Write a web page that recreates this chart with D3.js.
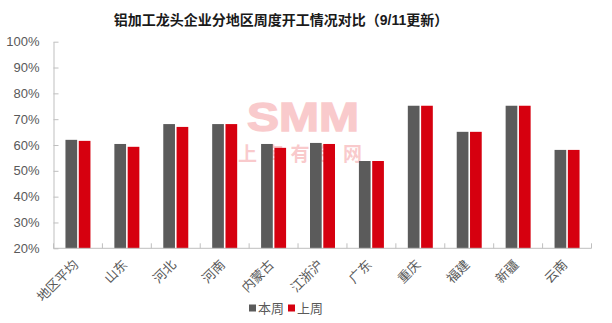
<!DOCTYPE html>
<html>
<head>
<meta charset="utf-8">
<script src="https://cdn.jsdelivr.net/npm/d3@7"></script>
<style>
  html, body { margin: 0; padding: 0; background: #fff; }
  svg { display: block; }
  text { font-family: "Liberation Sans", "Noto Sans CJK SC", sans-serif; }
</style>
</head>
<body>
<svg id="chart" width="612" height="323"></svg>
<script>
// Regions (x axis categories)
const regions = ["地区平均", "山东", "河北", "河南", "内蒙古", "江浙沪", "广东", "重庆", "福建", "新疆", "云南"];
// Operating rate this week / last week (%)
const thisWeek = [62.0, 60.4, 68.1, 68.1, 60.4, 60.8, 53.8, 75.2, 65.1, 75.2, 58.1];
const lastWeek = [61.6, 59.3, 67.0, 68.1, 58.9, 60.4, 53.8, 75.2, 65.1, 75.2, 58.1];
const seriesNames = ["本周", "上周"];
const seriesColors = ["#5b5b5b", "#d6000f"];
const yTicks = [20, 30, 40, 50, 60, 70, 80, 90, 100];
const titleText = "铝加工龙头企业分地区周度开工情况对比（9/11更新）";

const svg = d3.select("#chart");
const plotLeft = 53.5, plotRight = 591.5, plotTop = 41.7, plotBottom = 248.3;

const x = d3.scaleBand().domain(regions).range([plotLeft, plotRight]).paddingInner(0).paddingOuter(0);
const x1 = d3.scaleBand().domain(seriesNames).range([x.bandwidth() / 2 - 12.5, x.bandwidth() / 2 + 12.5]).paddingInner(0.12);
const y = d3.scaleLinear().domain([20, 100]).range([plotBottom, plotTop]);

// Watermark
const wm = svg.append("g").attr("opacity", 0.24).attr("fill", "#e8282d");
wm.append("text").attr("x", 247).attr("y", 131)
  .attr("font-size", 41).attr("font-weight", "bold")
  .attr("stroke", "#e8282d").attr("stroke-width", 1.5)
  .attr("textLength", 112).attr("lengthAdjust", "spacingAndGlyphs")
  .text("SMM");
wm.append("text").attr("x", 238).attr("y", 161)
  .attr("font-size", 19).attr("font-weight", "bold")
  .attr("textLength", 124).attr("lengthAdjust", "spacing")
  .style("font-family", "'Noto Sans CJK SC'").text("上海有色网");

// Bars
const data = regions.map((r, i) => ({ region: r, values: [thisWeek[i], lastWeek[i]] }));
const groups = svg.append("g").selectAll("g").data(data).join("g")
  .attr("transform", d => `translate(${x(d.region)},0)`);
groups.selectAll("rect").data(d => d.values.map((v, j) => ({ v, s: seriesNames[j], c: seriesColors[j] })))
  .join("rect")
  .attr("x", d => x1(d.s))
  .attr("width", x1.bandwidth())
  .attr("y", d => y(d.v))
  .attr("height", d => y(20) - y(d.v))
  .attr("fill", d => d.c);

// Y axis (ticks pointing inward)
const yAxis = svg.append("g").attr("transform", `translate(${plotLeft},0)`)
  .call(d3.axisLeft(y).tickValues(yTicks).tickFormat(d => d + "%").tickSizeInner(-5).tickSizeOuter(0).tickPadding(14));
yAxis.select(".domain").attr("stroke", "#bfbfbf");
yAxis.selectAll(".tick line").attr("stroke", "#bfbfbf");
yAxis.selectAll(".tick text").attr("fill", "#595959").attr("font-size", 13)
  .style("font-family", "'Liberation Sans', sans-serif");

// X axis: baseline with inward ticks at category boundaries
const xAxisG = svg.append("g");
xAxisG.append("line").attr("x1", plotLeft).attr("x2", plotRight).attr("y1", plotBottom).attr("y2", plotBottom)
  .attr("stroke", "#bfbfbf");
const bounds = regions.map(r => x(r)).concat([plotRight]);
xAxisG.selectAll("line.b").data(bounds).join("line").attr("class", "b")
  .attr("x1", d => d).attr("x2", d => d).attr("y1", plotBottom).attr("y2", plotBottom - 5)
  .attr("stroke", "#bfbfbf");

// Rotated category labels
svg.append("g").selectAll("text").data(regions).join("text")
  .attr("transform", d => `translate(${x(d) + x.bandwidth() / 2 - 2},${plotBottom + 14}) rotate(-45)`)
  .attr("text-anchor", "end").attr("dy", "0.35em")
  .attr("font-size", 13).attr("fill", "#595959")
  .text(d => d);

// Title
svg.append("text").attr("x", 281).attr("y", 25).attr("text-anchor", "middle")
  .attr("font-size", 14).attr("font-weight", "bold").attr("fill", "#1a1a1a")
  .text(titleText);

// Legend
const legend = svg.append("g");
const legendX = [249, 288];
seriesNames.forEach((n, i) => {
  legend.append("rect").attr("x", legendX[i]).attr("y", 304.5).attr("width", 7).attr("height", 7)
    .attr("fill", seriesColors[i]);
  legend.append("text").attr("x", legendX[i] + 9).attr("y", 308).attr("dy", "0.35em")
    .attr("font-size", 13).attr("fill", "#595959").text(n);
});
</script>
</body>
</html>
